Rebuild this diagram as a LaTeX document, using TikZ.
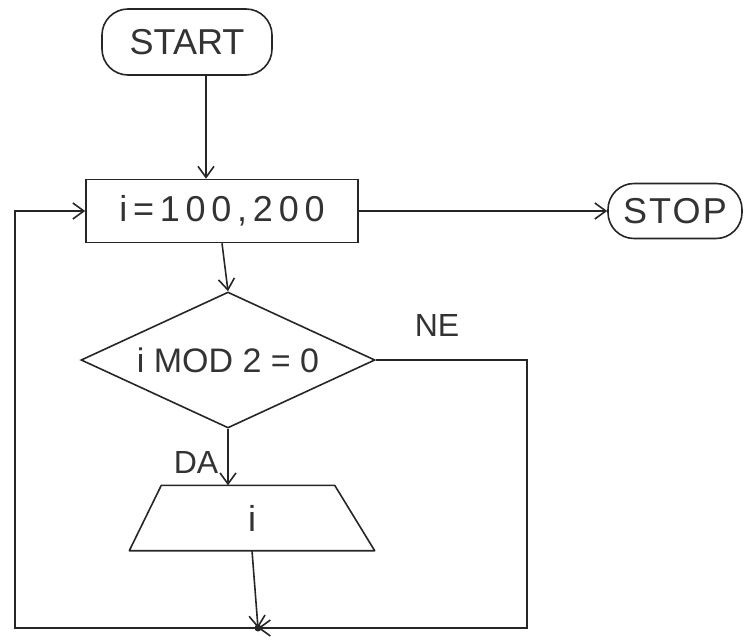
\documentclass[tikz,border=0pt]{standalone}
\usepackage{fontspec}
\setmainfont{Liberation Sans}
\usetikzlibrary{arrows.meta,shapes.geometric,calc}

\begin{document}
\begin{tikzpicture}[x=1pt,y=-1pt,
  ink/.style={draw=black!85, line width=1.6pt},
  txt/.style={text=black!80, font=\fontsize{36}{40}\selectfont},
  term/.style={ink, txt, rounded corners=26pt, inner sep=0pt},
  arr/.style={ink, -{Straight Barb[length=11pt,width=16pt,line width=1.6pt]}},
  lbl/.style={txt, inner sep=0pt}
]
\useasboundingbox (0,0) rectangle (744,640);

% terminals
\node[term, minimum width=170pt, minimum height=66pt] (start) at (187,42) {START};
\node[term, minimum width=134pt, minimum height=55pt] (stop) at (675,211)
  {\addfontfeature{LetterSpace=6}STOP};

% loop header
\node[ink, txt, minimum width=272pt, minimum height=63pt, inner sep=0pt] (loop) at (222,211)
  {\addfontfeature{LetterSpace=16}i=100,200};

% condition
\node[ink, txt, diamond, aspect=2.16, minimum width=294pt, minimum height=136pt, inner sep=0pt]
  (cond) at (228,360) {\fontsize{34}{38}\selectfont i MOD 2 = 0};

% output (trapezoid drawn around the node box)
\node[txt, minimum width=245pt, minimum height=65pt, inner sep=0pt] (out) at (252,518) {i};
\draw[ink, line join=round] (out.south west) -- ($(out.north west)+(32,0)$)
  -- ($(out.north east)+(-40,0)$) -- (out.south east) -- cycle;

% junction
\coordinate (merge) at (258,628);
\coordinate (rc) at (527,628);
\coordinate (lc) at (15,628);
\fill[black!85] (merge) circle (3.5pt);

% connectors
\draw[arr] ($(start.south)+(19,0)$) -- ($(loop.north)+(-16,0)$);
\draw[arr] (loop.east) -- (stop.west);
\draw[arr] (loop.south) -- (cond.north);
\draw[arr] (cond.south) -- (cond.south |- out.north);
\draw[arr] (out.south) -- (merge);
\draw[arr] (cond.east) -| (rc) -- (merge);
\draw[arr] (merge) -- (lc) |- (loop.west);

% branch labels
\node[lbl, font=\fontsize{32}{36}\selectfont] (da) at (196,462) {DA};
\node[lbl, font=\fontsize{32}{36}\selectfont] (ne) at (437,325) {NE};
\end{tikzpicture}
\end{document}
